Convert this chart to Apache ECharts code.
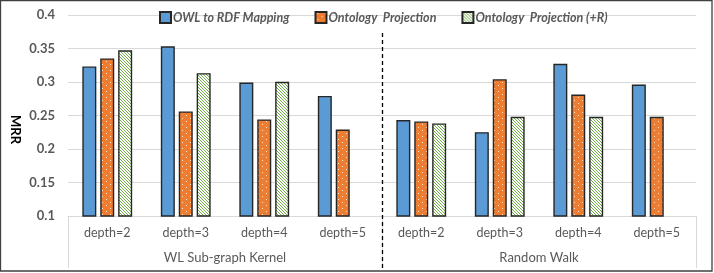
<!DOCTYPE html>
<html><head><meta charset="utf-8">
<script src="https://cdn.jsdelivr.net/npm/echarts@6/dist/echarts.min.js"></script>
<style>html,body{margin:0;padding:0;background:#fff}#c{width:714px;height:273px}</style>
</head><body><div id="c"></div>
<script>
// ---- data ----
const categories = ['depth=2','depth=3','depth=4','depth=5','depth=2','depth=3','depth=4','depth=5'];
const groups = ['WL Sub-graph Kernel','Random Walk'];
const seriesNames = ['OWL to RDF Mapping','Ontology  Projection','Ontology  Projection (+R)'];
const owlToRdf = [0.323, 0.353, 0.299, 0.279, 0.243, 0.225, 0.327, 0.296];
const ontProj = [0.335, 0.256, 0.244, 0.229, 0.241, 0.304, 0.281, 0.248];
const ontProjR = [0.347, 0.313, 0.300, null, 0.238, 0.248, 0.248, null];
const yTicks = {min: 0.1, max: 0.4, interval: 0.05};

// ---- patterns ----
function dotPattern(){
  const c = document.createElement('canvas'); c.width = 8; c.height = 6;
  const g = c.getContext('2d');
  g.fillStyle = '#ED7D31'; g.fillRect(0,0,8,6);
  g.fillStyle = '#FBE3D2';
  g.fillRect(2,1,1,1); g.fillRect(6,4,1,1);
  return c;
}
function hatchPattern(){
  const c = document.createElement('canvas'); c.width = 3; c.height = 3;
  const g = c.getContext('2d');
  g.fillStyle = '#ffffff'; g.fillRect(0,0,3,3);
  g.fillStyle = '#70AD47';
  for (let i=0;i<3;i++) g.fillRect(i,i,1,1);
  return c;
}
const FONT = 'Lato';
const chart = echarts.init(document.getElementById('c'), null, {renderer:'canvas'});
const border = {borderColor:'#262626', borderWidth:1.4};
const option = {
  animation:false,
  textStyle:{fontFamily:FONT},
  grid:{left:68, right:18, top:14.8, bottom:57, containLabel:false},
  legend:{
    top:6, left:154, itemWidth:11, itemHeight:11, itemGap:25, icon:'rect',
    textStyle:{fontFamily:FONT, fontStyle:'italic', fontWeight:'bold', fontSize:12.5, color:'#595959', padding:[0,0,0,-3]},
    data: seriesNames
  },
  xAxis:[
    {type:'category', data:categories, position:'bottom',
     axisLine:{show:true, lineStyle:{color:'#d9d9d9', width:1}},
     axisTick:{show:false},
     axisLabel:{fontFamily:FONT, fontSize:12.5, color:'#595959', margin:10, interval:0}},
    {type:'category', data:groups, position:'bottom', offset:0,
     axisLine:{show:false},
     axisTick:{show:true, length:52, inside:false, lineStyle:{color:'#d9d9d9', width:1}},
     axisLabel:{fontFamily:FONT, fontSize:13, color:'#595959', margin:35, interval:0}}
  ],
  yAxis:{type:'value', min:yTicks.min, max:yTicks.max, interval:yTicks.interval,
    axisLine:{show:false}, axisTick:{show:false},
    splitLine:{lineStyle:{color:'#d9d9d9', width:1}},
    axisLabel:{fontFamily:FONT, fontWeight:'bold', fontSize:13, color:'#595959', margin:13,
      formatter: v => String(+v.toFixed(2))}
  },
  series:[
    {name:seriesNames[0], type:'bar', data:owlToRdf, barWidth:14, barGap:'28%',
     itemStyle:Object.assign({color:'#5B9BD5'}, border)},
    {name:seriesNames[1], type:'bar', data:ontProj, barWidth:14, barGap:'28%',
     itemStyle:Object.assign({color:{image:dotPattern(), repeat:'repeat'}}, border)},
    {name:seriesNames[2], type:'bar', data:ontProjR, barWidth:14, barGap:'28%',
     itemStyle:Object.assign({color:{image:hatchPattern(), repeat:'repeat'}}, border)}
  ]
};
chart.setOption(option);
// group divider at the boundary between the two groups
const p0 = chart.convertToPixel({xAxisIndex:0}, categories.length/2 - 1);
const p1 = chart.convertToPixel({xAxisIndex:0}, categories.length/2);
const divX = Math.round((p0 + p1)/2) + 0.5;
chart.setOption({graphic:[
  {type:'line', shape:{x1:divX, y1:33, x2:divX, y2:270}, style:{stroke:'#000', lineWidth:1.3, lineDash:[4,3]}, z:100},
  {type:'text', left:9, top:115, rotation:-Math.PI/2, style:{text:'MRR', font:'bold 13px '+FONT, fill:'#000'}},
  {type:'rect', shape:{x:0.5, y:0.5, width:711.5, height:270.5}, style:{fill:null, stroke:'#404040', lineWidth:1.3}, silent:true}
]});
</script></body></html>
